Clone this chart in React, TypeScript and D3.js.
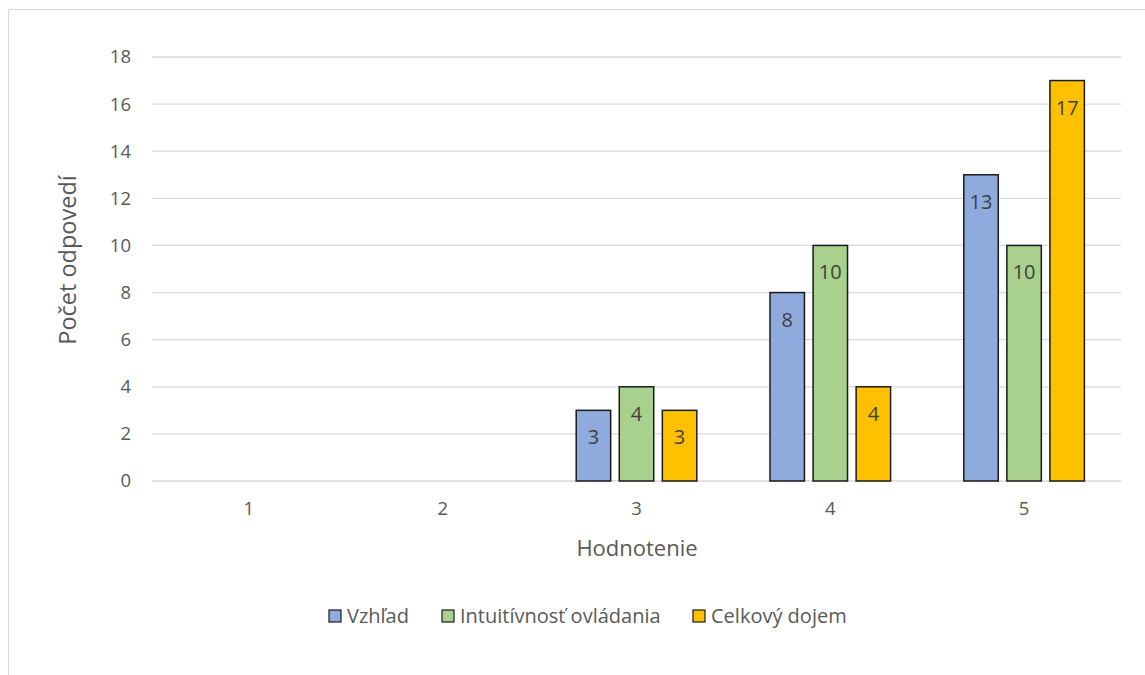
import React from "react";
import * as d3 from "d3";

const categories = ["1", "2", "3", "4", "5"];
const seriesNames = ["Vzhľad", "Intuitívnosť ovládania", "Celkový dojem"];
const vzhlad = [0, 0, 3, 8, 13];
const intuitivnost = [0, 0, 4, 10, 10];
const celkovy = [0, 0, 3, 4, 17];
const yTicks = [0, 2, 4, 6, 8, 10, 12, 14, 16, 18];
const colors = ["#8FAADC", "#A9D18E", "#FFC000"];

const W = 1145;
const H = 675;
const FONT = "'Open Sans', sans-serif";
const TXT = "#595959";

export default function App() {
  const series = [vzhlad, intuitivnost, celkovy];
  const x = d3.scaleBand<string>().domain(categories).range([152, 1121]).paddingInner(0).paddingOuter(0);
  const y = d3.scaleLinear().domain([0, 18]).range([481, 57]);
  const inner = d3.scaleBand<number>().domain([0, 1, 2]).range([0, x.bandwidth()]).paddingInner(0.2).paddingOuter(0.85);
  const legendX = [329, 442, 693];
  return (
    <svg width={W} height={H} style={{ position: "absolute", left: 0, top: 0 }}>
      <rect x={0} y={0} width={W} height={H} fill="#fff" />
      <line x1={8.5} y1={9.5} x2={W} y2={9.5} stroke="#D9D9D9" />
      <line x1={8.5} y1={9.5} x2={8.5} y2={H} stroke="#D9D9D9" />
      {yTicks.map((t) => (
        <g key={t}>
          <line x1={152} x2={1121} y1={y(t)} y2={y(t)} stroke="#D9D9D9" strokeWidth={1.3} />
          <text x={131} y={y(t)} dy="0.35em" textAnchor="end" fontFamily={FONT} fontSize={18.5} fill={TXT}>{t}</text>
        </g>
      ))}
      {categories.map((c) => (
        <text key={c} x={(x(c) ?? 0) + x.bandwidth() / 2} y={509} dy="0.35em" textAnchor="middle" fontFamily={FONT} fontSize={18.5} fill={TXT}>{c}</text>
      ))}
      {series.map((vals, si) =>
        categories.map((c, ci) => {
          const v = vals[ci];
          if (!v) return null;
          const bx = (x(c) ?? 0) + (inner(si) ?? 0);
          const by = y(v);
          return (
            <g key={si + "-" + c}>
              <rect x={bx} y={by} width={inner.bandwidth()} height={y(0) - by} fill={colors[si]} stroke="#1a1a1a" strokeWidth={1.5} />
              <text x={bx + inner.bandwidth() / 2} y={by + 27} dy="0.35em" textAnchor="middle" fontFamily={FONT} fontSize={20} fill="#404040">{v}</text>
            </g>
          );
        })
      )}
      <text transform="translate(68,260) rotate(-90)" textAnchor="middle" dy="0.35em" fontFamily={FONT} fontSize={23.5} fill={TXT}>Počet odpovedí</text>
      <text x={637} y={548} dy="0.35em" textAnchor="middle" fontFamily={FONT} fontSize={22} fill={TXT}>Hodnotenie</text>
      {seriesNames.map((n, i) => (
        <g key={n}>
          <rect x={legendX[i]} y={610} width={12} height={12} fill={colors[i]} stroke="#1a1a1a" strokeWidth={1.2} />
          <text x={legendX[i] + 18} y={616} dy="0.35em" fontFamily={FONT} fontSize={20} fill={TXT}>{n}</text>
        </g>
      ))}
    </svg>
  );
}
